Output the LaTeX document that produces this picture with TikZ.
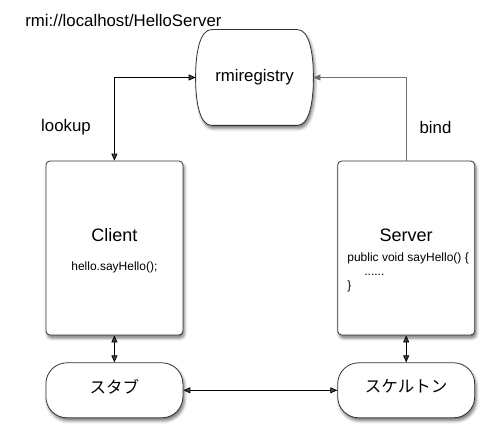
\documentclass[tikz,border=0pt]{standalone}
\usepackage{fontspec}
\setmainfont{Liberation Sans}
\newfontfamily\jpfont{Noto Sans CJK JP}
\usetikzlibrary{arrows.meta,positioning,calc,shadows.blur}
\tikzset{
  >={Triangle[length=7pt,width=6pt]},
  every picture/.append style={line width=0.8pt},
}
\tikzset{
  box/.style={draw=black!80, fill=white, rounded corners=4pt, minimum width=137pt, minimum height=174pt, inner sep=0pt},
  pill/.style={draw=black!80, fill=white, rounded corners=21pt, minimum width=137pt, minimum height=55pt, inner sep=0pt},
  softshadow/.style={blur shadow={shadow xshift=1.5pt, shadow yshift=-3pt, shadow blur radius=3pt, shadow opacity=55}},
  arrow/.style={->},
  dblarrow/.style={<->}
}
\begin{document}
\begin{tikzpicture}[
  x=1pt, y=1pt,
  node distance=27pt and 154pt,
  label/.style={font=\fontsize{16.8}{19}\selectfont, inner sep=0pt},
  title/.style={font=\fontsize{18}{21}\selectfont, inner sep=0pt, anchor=base},
  code/.style={font=\fontsize{12}{14}\selectfont, inner sep=0pt},
  jp/.style={font=\jpfont\fontsize{16.5}{19}\selectfont, inner sep=0pt}
]
\definecolor{bindgray}{RGB}{110,110,110}
\useasboundingbox (0,0) rectangle (495,440);

% registry (barrel shape drawn round an empty node)
\node[minimum width=117pt, minimum height=95pt, inner sep=0pt] (reg) at (254.5,362.5) {};
\path[draw=black!80, fill=white, softshadow]
  ($(reg.north west)+(16,0)$) -- ($(reg.north east)+(-16,0)$)
  .. controls ($(reg.north east)+(-5,0)$) and (reg.east|-{0,390}) .. (reg.east)
  .. controls (reg.east|-{0,335}) and ($(reg.south east)+(-5,0)$) .. ($(reg.south east)+(-16,0)$)
  -- ($(reg.south west)+(16,0)$)
  .. controls ($(reg.south west)+(5,0)$) and (reg.west|-{0,335}) .. (reg.west)
  .. controls (reg.west|-{0,390}) and ($(reg.north west)+(5,0)$) .. cycle;
\node[label] (regtxt) at (reg.center) {rmiregistry};

\node[box, softshadow] (client) at (114.4,192) {};
\node[box, softshadow, right=of client] (server) {};
\node[pill, softshadow, below=of client] (stub) {};
\node[pill, softshadow, below=of server] (skel) {};

% texts
\node[label, anchor=base west] (url) at (25,413.5) {rmi://localhost/HelloServer};
\node[label] (lookup) at (66,313) {lookup};
\node[label] (bind) at (435.5,313) {bind};
\node[title] (clienttxt) at ([yshift=6.4pt]client.center) {Client};
\node[code, anchor=base] (callcode) at ([yshift=-22.7pt]client.center) {hello.sayHello();};
\node[title] (servertxt) at ([yshift=6.4pt]server.center) {Server};
\node[code, anchor=base west] (code1) at (347,178.3) {public void sayHello() \{};
\node[code, anchor=base west] (code2) at (364,164.5) {......};
\node[code, anchor=base west] (code3) at (347,151) {\}};
\node[jp] (stubtxt) at ([yshift=4pt]stub.center) {スタブ};
\node[jp] (skeltxt) at ([yshift=4pt]skel.center) {スケルトン};

% connectors
\draw[dblarrow] (reg.west) -| (client.north);
\draw[arrow, bindgray] (server.north) |- (reg.east);
\draw[dblarrow] (client) -- (stub);
\draw[dblarrow] (server) -- (skel);
\draw[dblarrow] (stub) -- (skel);
\end{tikzpicture}
\end{document}
